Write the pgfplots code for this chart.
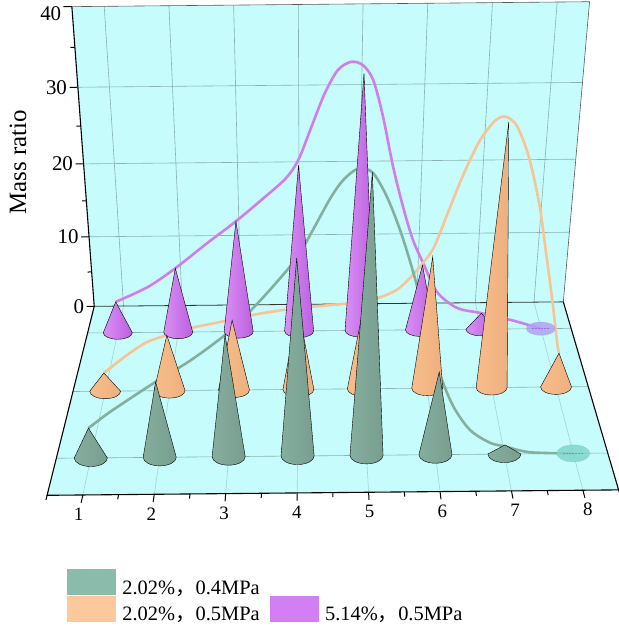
\documentclass[border=0pt]{standalone}
\usepackage{pgfplots}
\usepackage{pgfplotstable}
\pgfplotsset{compat=1.18}
\usepackage{fontspec}
\setmainfont{Liberation Serif}
\newfontfamily\cjk{Noto Sans CJK SC}

\definecolor{wallC}{HTML}{C6FCFC}
\definecolor{gridC}{HTML}{8AB2B2}
\definecolor{fgridC}{HTML}{A8D2D2}
\definecolor{gC}{HTML}{8BBBAA}
\definecolor{oC}{HTML}{FCC89C}
\definecolor{pC}{HTML}{D27FF3}
\definecolor{gL}{HTML}{86AE9E}
\definecolor{gM}{HTML}{A3CBBB}
\definecolor{gR}{HTML}{779E8F}
\definecolor{oL}{HTML}{F8BD8C}
\definecolor{oM}{HTML}{FFD4AE}
\definecolor{oR}{HTML}{EFAF7E}
\definecolor{pL}{HTML}{D98FF5}
\definecolor{pM}{HTML}{CF76F0}
\definecolor{pR}{HTML}{BB60DF}
\definecolor{gLine}{HTML}{84AF9E}
\definecolor{oLine}{HTML}{F8C496}
\definecolor{pLine}{HTML}{D27DEC}
\definecolor{gDisc}{HTML}{80D6CB}
\definecolor{pDisc}{HTML}{A9A6F2}

\pgfdeclareplotmark{nothing}{}

% ---- cone heights (mass ratio) ----
\pgfplotstableread{
x z
1 3.9
2 9.7
3 15.4
4 24.4
5 33.9
6 10.6
7 1.2
8 0
}\coneG
\pgfplotstableread{
x z
1 2.5
2 7.5
3 9.4
4 10.9
5 11.5
6 17.3
7 33.5
8 4.6
}\coneO
\pgfplotstableread{
x z
1 4.4
2 9.0
3 15.3
4 22.6
5 34.0
6 9.1
7 2.3
8 0
}\coneP

% ---- fitted curves ----
\pgfplotstableread{
x z
1 3.9
1.3 5.8
1.6 7.5
2 9.7
2.5 12.3
3 15.4
3.35 18.2
3.65 20.9
4 24.4
4.22 27.6
4.45 31.1
4.62 33.1
4.81 34.3
5.0 33.9
5.2 31.2
5.4 27.2
5.6 22.2
5.8 16.4
6 10.6
6.22 6.3
6.48 3.2
6.78 1.5
7 1.0
7.37 0.2
8 0
}\curveG
\pgfplotstableread{
x z
1 2.5
1.375 4.9
1.69 6.6
2 7.5
2.36 8.4
2.71 9.0
3.12 9.7
3.47 10.3
3.98 10.9
4.48 11.25
4.93 11.6
5.23 12.2
5.49 13.2
5.72 15.1
6.0 18.3
6.2 22.9
6.4 27.5
6.6 31.3
6.8 33.6
6.95 34.1
7.12 33.0
7.32 29.4
7.52 23.8
7.67 18.0
7.83 11.6
7.96 5.9
8 4.6
}\curveO
\pgfplotstableread{
x z
1 4.4
1.53 6.4
2 9.0
2.53 12.4
3 15.3
3.44 18.3
3.8 20.9
4.0 23.3
4.2 27.4
4.4 31.5
4.6 34.4
4.8 35.4
4.98 35.0
5.14 33.2
5.30 28.8
5.48 22.3
5.66 16.9
5.83 12.6
6.01 9.4
6.25 5.4
6.59 3.1
7 2.3
7.53 1.2
8 0
}\curveP

\pgfplotsset{
  table/prj/.style={x expr={pu(\thisrow{x},\thisrow{d},\thisrow{z})},
                    y expr={py(\thisrow{x},\thisrow{d},\thisrow{z})}},
  cone/.style n args={4}{
    forget plot, scatter, only marks, mark=nothing,
    restrict expr to domain={\thisrow{z}}{0.01:1000},
    visualization depends on={pu(\thisrow{x},#1,\thisrow{z})-pu(\thisrow{x},#1,0)\as\cdu},
    visualization depends on={py(\thisrow{x},#1,\thisrow{z})-py(\thisrow{x},#1,0)\as\cdv},
    visualization depends on={0.5*(pu(\thisrow{x}+0.24,#1,0)-pu(\thisrow{x}-0.24,#1,0))\as\ca},
    visualization depends on={0.5*(py(\thisrow{x},#1+0.12,0)-py(\thisrow{x},#1-0.12,0))\as\cb},
    scatter/@pre marker code/.code={%
      \shade[left color=#2,middle color=#3,right color=#4]
        (-\ca bp,0pt) -- (\cdu bp,\cdv bp) -- (\ca bp,0pt)
        arc[start angle=0,end angle=-180,x radius=\ca bp,y radius=\cb bp] -- cycle;
      \scope},
    scatter/@post marker code/.code={\endscope},
  },
  disc/.style n args={3}{
    forget plot, scatter, only marks, mark=nothing,
    restrict expr to domain={\thisrow{z}}{-1:0.01},
    visualization depends on={0.5*(pu(\thisrow{x}+0.24,#1,0)-pu(\thisrow{x}-0.24,#1,0))\as\ca},
    visualization depends on={0.5*(py(\thisrow{x},#1+0.12,0)-py(\thisrow{x},#1-0.12,0))\as\cb},
    scatter/@pre marker code/.code={%
      \fill[#2,opacity=0.85] (0pt,0pt) ellipse[x radius=\ca bp,y radius=\cb bp];
      \draw[#3,line width=1bp,dash pattern=on 1.5bp off 1.5bp] (-0.6*\ca bp,0pt) -- (0.6*\ca bp,0pt);
      \scope},
    scatter/@post marker code/.code={\endscope},
  },
}

\begin{document}
\begin{tikzpicture}[declare function={
  zc(\pX,\pD,\pZ)=22.385+1.5721*(\pD-1)-0.06176*\pZ;
  pu(\pX,\pD,\pZ)=310+1543*(\pX-4.18)/zc(\pX,\pD,\pZ);
  pv(\pX,\pD,\pZ)=250-1543*(-3.023+0.8219*(\pD-1)+0.11813*\pZ)/zc(\pX,\pD,\pZ)+0.445-0.0095*pu(\pX,\pD,\pZ);
  py(\pX,\pD,\pZ)=-pv(\pX,\pD,\pZ);
}]
\begin{axis}[
  width=619bp, height=628bp, scale only axis,
  xmin=0, xmax=619, ymin=-628, ymax=0,
  enlargelimits=false, hide axis, clip=false,
  legend columns=2,
  legend cell align=left,
  legend style={at={(0.10824,0.0940)}, anchor=north west, draw=none, fill=none,
    inner sep=0pt, outer sep=0pt, row sep=0pt,
    font=\fontsize{20.5}{23}\selectfont,
    nodes={inner sep=0pt},
    /tikz/every odd column/.append style={column sep=7bp},
    /tikz/every even column/.append style={column sep=10bp}},
]
% walls
\addplot[forget plot, fill=wallC, draw=none] table[prj] {
x d z
0.5 3.5 0
8.5 3.5 0
8.5 3.5 40
0.5 3.5 40
};
\addplot[forget plot, fill=wallC, draw=none] table[prj] {
x d z
0.5 0.5 0
8.5 0.5 0
8.5 3.5 0
0.5 3.5 0
};
% floor grid
\addplot[forget plot, fgridC, line width=0.6bp, unbounded coords=jump] table[prj] {
x d z
1 0.5 0
1 3.5 0
nan nan nan
2 0.5 0
2 3.5 0
nan nan nan
3 0.5 0
3 3.5 0
nan nan nan
4 0.5 0
4 3.5 0
nan nan nan
5 0.5 0
5 3.5 0
nan nan nan
6 0.5 0
6 3.5 0
nan nan nan
7 0.5 0
7 3.5 0
nan nan nan
8 0.5 0
8 3.5 0
};
\addplot[forget plot, gridC, line width=0.6bp, unbounded coords=jump] table[prj] {
x d z
0.5 1 0
8.5 1 0
nan nan nan
0.5 2 0
8.5 2 0
nan nan nan
0.5 3 0
8.5 3 0
};
% back wall grid
\addplot[forget plot, gridC, line width=0.6bp, unbounded coords=jump] table[prj] {
x d z
0.5 3.5 10
8.5 3.5 10
nan nan nan
0.5 3.5 20
8.5 3.5 20
nan nan nan
0.5 3.5 30
8.5 3.5 30
nan nan nan
1 3.5 0
1 3.5 40
nan nan nan
2 3.5 0
2 3.5 40
nan nan nan
3 3.5 0
3 3.5 40
nan nan nan
4 3.5 0
4 3.5 40
nan nan nan
5 3.5 0
5 3.5 40
nan nan nan
6 3.5 0
6 3.5 40
nan nan nan
7 3.5 0
7 3.5 40
nan nan nan
8 3.5 0
8 3.5 40
};
% wall edges
\addplot[forget plot, black!65, line width=0.6bp] table[prj] {
x d z
0.5 3.5 40
8.5 3.5 40
8.5 3.5 0
};
\addplot[forget plot, black!80, line width=0.8bp] table[prj] {
x d z
0.5 3.5 0
8.5 3.5 0
};
% axis lines
\addplot[forget plot, black, line width=1.1bp] table[prj] {
x d z
0.5 3.5 40
0.5 3.5 0
0.5 0.5 0
8.5 0.5 0
8.5 3.5 0
};
% ticks
\addplot[forget plot, black, line width=1bp, unbounded coords=jump] table[prj] {
x d z
0.5 3.5 0
0.37 3.5 0
nan nan nan
0.5 3.5 10
0.37 3.5 10
nan nan nan
0.5 3.5 20
0.37 3.5 20
nan nan nan
0.5 3.5 30
0.37 3.5 30
nan nan nan
0.5 3.5 40
0.37 3.5 40
nan nan nan
0.5 3.5 5
0.43 3.5 5
nan nan nan
0.5 3.5 15
0.43 3.5 15
nan nan nan
0.5 3.5 25
0.43 3.5 25
nan nan nan
0.5 3.5 35
0.43 3.5 35
nan nan nan
1 0.5 0
1 0.4 0
nan nan nan
2 0.5 0
2 0.4 0
nan nan nan
3 0.5 0
3 0.4 0
nan nan nan
4 0.5 0
4 0.4 0
nan nan nan
5 0.5 0
5 0.4 0
nan nan nan
6 0.5 0
6 0.4 0
nan nan nan
7 0.5 0
7 0.4 0
nan nan nan
8 0.5 0
8 0.4 0
nan nan nan
0.5 0.5 0
0.5 0.44 0
nan nan nan
1.5 0.5 0
1.5 0.44 0
nan nan nan
2.5 0.5 0
2.5 0.44 0
nan nan nan
3.5 0.5 0
3.5 0.44 0
nan nan nan
4.5 0.5 0
4.5 0.44 0
nan nan nan
5.5 0.5 0
5.5 0.44 0
nan nan nan
6.5 0.5 0
6.5 0.44 0
nan nan nan
7.5 0.5 0
7.5 0.44 0
nan nan nan
8.5 0.5 0
8.5 0.44 0
};
% tick labels
\addplot[forget plot, only marks, mark=nothing, point meta=explicit symbolic, nodes near coords,
  every node near coord/.append style={anchor=east, inner sep=0pt, text=black, font=\fontsize{21}{21}\selectfont}]
  table[x expr={pu(0.33,3.5,\thisrow{z})}, y expr={py(0.33,3.5,\thisrow{z})}, meta=lab] {
z lab
0 0
10 10
20 20
30 30
39.2 40
};
\addplot[forget plot, only marks, mark=nothing, point meta=explicit symbolic, nodes near coords,
  every node near coord/.append style={anchor=center, inner sep=0pt, text=black, font=\fontsize{19}{19}\selectfont}]
  table[x expr={pu(\thisrow{x},0.25,0)}, y expr={py(\thisrow{x},0.25,0)}, meta=lab] {
x lab
1 1
2 2
3 3
4 4
5 5
6 6
7 7
8 8
};
\node[rotate=90, font=\fontsize{25}{25}\selectfont] at (axis cs:18,-162) {Mass ratio};

% back row: 5.14%, 0.5MPa
\addplot[cone={3}{pL}{pM}{pR}] table[x expr={pu(\thisrow{x},3,0)}, y expr={py(\thisrow{x},3,0)}] {\coneP};
\addplot[disc={3}{pDisc}{pR}] table[x expr={pu(\thisrow{x},3,0)}, y expr={py(\thisrow{x},3,0)}] {\coneP};
\addplot[forget plot, pLine, line width=2.6bp, smooth] table[x expr={pu(\thisrow{x},3,\thisrow{z})}, y expr={py(\thisrow{x},3,\thisrow{z})}] {\curveP};
% middle row: 2.02%, 0.5MPa
\addplot[cone={2}{oL}{oM}{oR}] table[x expr={pu(\thisrow{x},2,0)}, y expr={py(\thisrow{x},2,0)}] {\coneO};
\addplot[forget plot, oLine, line width=2.6bp, smooth] table[x expr={pu(\thisrow{x},2,\thisrow{z})}, y expr={py(\thisrow{x},2,\thisrow{z})}] {\curveO};
% front row: 2.02%, 0.4MPa
\addplot[cone={1}{gL}{gM}{gR}] table[x expr={pu(\thisrow{x},1,0)}, y expr={py(\thisrow{x},1,0)}] {\coneG};
\addplot[disc={1}{gDisc}{gR}] table[x expr={pu(\thisrow{x},1,0)}, y expr={py(\thisrow{x},1,0)}] {\coneG};
\addplot[forget plot, gLine, line width=2.6bp, smooth] table[x expr={pu(\thisrow{x},1,\thisrow{z})}, y expr={py(\thisrow{x},1,\thisrow{z})}] {\curveG};

% legend
\addlegendimage{legend image code/.code={\fill[gC] (0bp,-6bp) rectangle (48bp,19bp);}}
\addlegendentry{2.02\%\smash{\cjk ，}0.4MPa}
\addlegendimage{empty legend}
\addlegendentry{}
\addlegendimage{legend image code/.code={\fill[oC] (0bp,-6bp) rectangle (48bp,19bp);}}
\addlegendentry{2.02\%\smash{\cjk ，}0.5MPa}
\addlegendimage{legend image code/.code={\fill[pC] (0bp,-6bp) rectangle (48bp,19bp);}}
\addlegendentry{5.14\%\smash{\cjk ，}0.5MPa}
\end{axis}
\pgfresetboundingbox
\path (current axis.south west) rectangle (current axis.north east);
\end{tikzpicture}
\end{document}
